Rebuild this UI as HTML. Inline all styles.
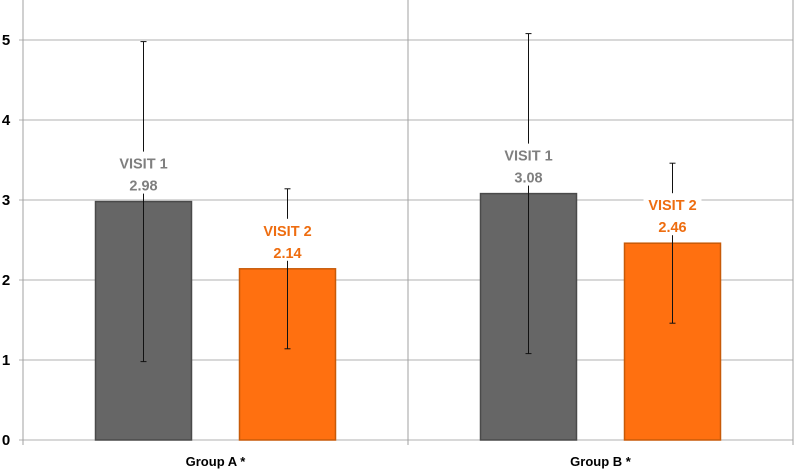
<!DOCTYPE html>
<html><head><meta charset="utf-8"><style>
html,body{margin:0;padding:0;background:#fff;width:794px;height:470px;overflow:hidden}
svg{display:block}
text{font-family:"Liberation Sans",sans-serif;font-weight:bold}
</style></head><body>
<svg id="chart" width="794" height="470"></svg>
<script>
const groups=["Group A *","Group B *"];
const visitNames=["VISIT 1","VISIT 2"];
const means=[[2.98,2.14],[3.08,2.46]];
const errs=[[2.0,1.0],[2.0,1.0]];
const yTicks=[0,1,2,3,4,5];
const svg=document.getElementById('chart');
const NS='http://www.w3.org/2000/svg';
function mk(t,a,p){const e=document.createElementNS(NS,t);for(const k in a)e.setAttribute(k,a[k]);(p||svg).appendChild(e);return e;}
const x0=23,x1=793,yB=440,pu=80;
const y=v=>yB-v*pu;
const gw=(x1-x0)/groups.length;
const barW=96;
const offs=[-72,72];
const fills=["#666666","#ff7010"];
const edges=["#4a4a4a","#c85a08"];
const labCol=["#7f7f7f","#ee6d10"];
yTicks.forEach(t=>{
 const l=mk('line',{x1:x0-4,x2:x1,y1:y(t),y2:y(t),stroke:'#b0b0b0','stroke-width':1});
 
 
 const tx=mk('text',{x:6,y:y(t)+5,'font-size':15,fill:'#000','text-anchor':'middle'});
 tx.textContent=t;
 
 
});
const ax=mk('line',{x1:x0,x2:x0,y1:0,y2:yB+5,stroke:'#a0a0a0'});


for(let g=0;g<=groups.length;g++){
 const xx=x0+g*gw;
 const d=mk('line',{x1:xx,x2:xx,y1:0,y2:yB+5,stroke:'#a0a0a0'});
 
 
}
groups.forEach((gn,g)=>{
 const cx=x0+gw*(g+0.5);
 const gl=mk('text',{x:cx,y:yB+26,'font-size':13,fill:'#000','text-anchor':'middle'});
 gl.textContent=gn;
 
 
 means[g].forEach((m,s)=>{
  const bx=cx+offs[s]-barW/2;
  const r=mk('rect',{x:bx,y:y(m),width:barW,height:yB-y(m),fill:fills[s],stroke:edges[s],'stroke-width':1.5});
  
  
  const ex=cx+offs[s];
  const eb=mk('g',{});
  
  
  const hi=y(m+errs[g][s]),lo=y(m-errs[g][s]);
  mk('line',{x1:ex,x2:ex,y1:hi,y2:lo,stroke:'#111','stroke-width':1},eb);
  mk('line',{x1:ex-3,x2:ex+3,y1:hi,y2:hi,stroke:'#111','stroke-width':1},eb);
  mk('line',{x1:ex-3,x2:ex+3,y1:lo,y2:lo,stroke:'#111','stroke-width':1},eb);
  const ly=y(m)-12;
  const bg=mk('rect',{x:ex-29,y:ly-38,width:58,height:42,fill:'#fff'});
  
  
  const t1=mk('text',{x:ex,y:ly-21,'font-size':14.5,fill:labCol[s],'text-anchor':'middle'});
  t1.textContent=visitNames[s];
  
  
  const t2=mk('text',{x:ex,y:ly+1,'font-size':14.5,fill:labCol[s],'text-anchor':'middle'});
  t2.textContent=m.toFixed(2);
  
  
 });
});
</script>
</body></html>
